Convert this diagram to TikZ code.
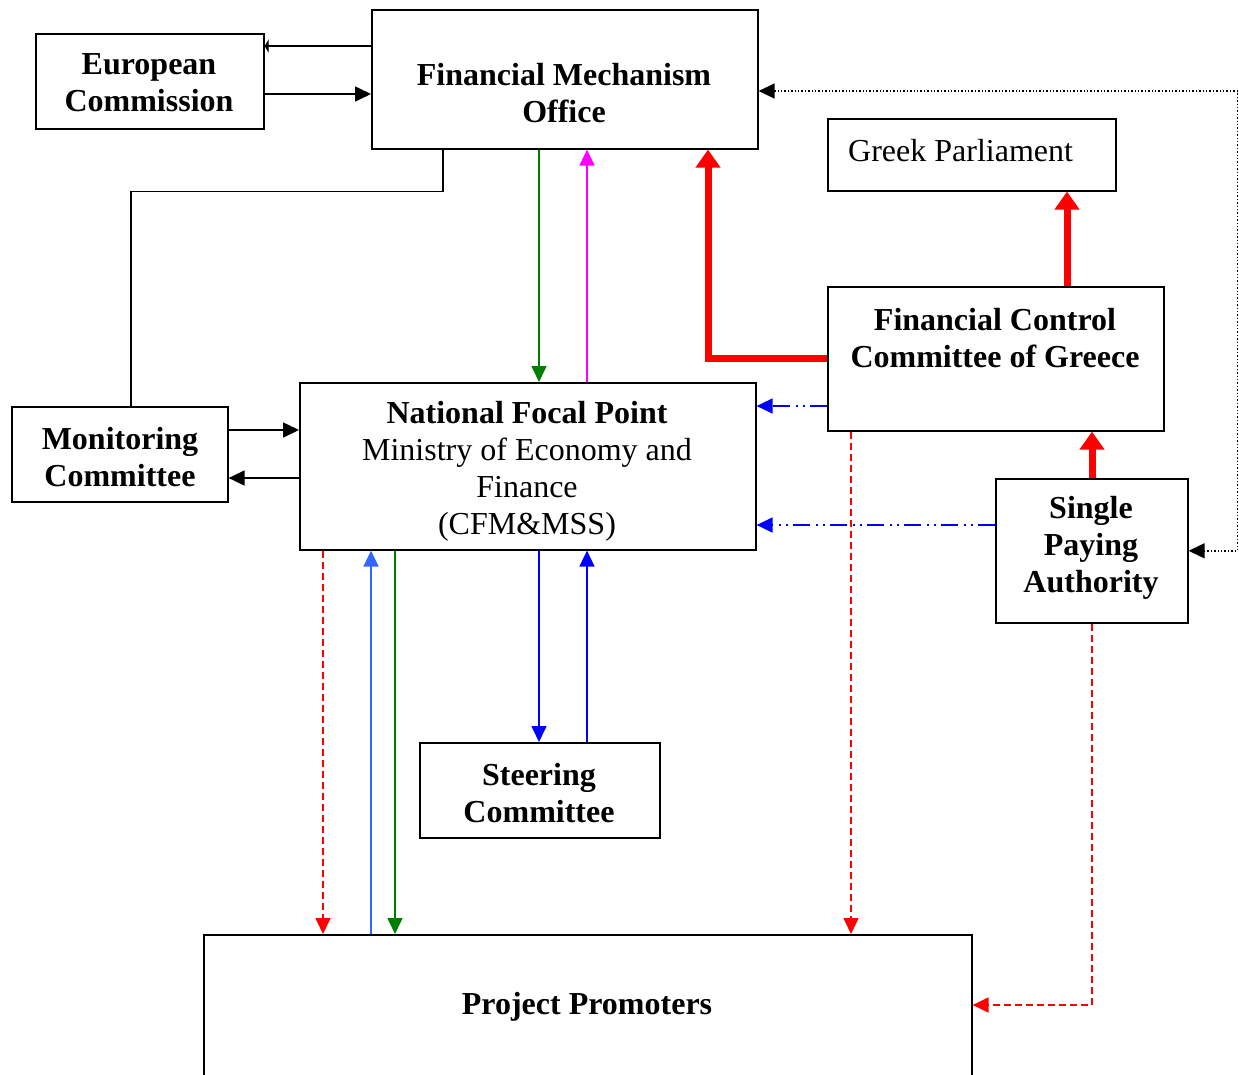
\documentclass[tikz,border=0pt]{standalone}
\usepackage{fontspec}
\setmainfont{Liberation Serif}
\usetikzlibrary{arrows.meta,calc}
\definecolor{pgreen}{RGB}{0,128,0}
\definecolor{pmag}{RGB}{255,0,255}
\definecolor{pred}{RGB}{255,0,0}
\definecolor{pblue}{RGB}{0,0,255}
\definecolor{plblue}{RGB}{51,102,255}
\tikzset{
  box/.style={draw=black, line width=1.6pt, rectangle, inner sep=0pt, anchor=north west},
  lbl/.style={align=center, font=\fontsize{32}{37}\selectfont\bfseries, inner sep=0pt},
  lblr/.style={align=center, font=\fontsize{32}{37}\selectfont, inner sep=0pt},
  conn/.style={line width=1.6pt, -{Triangle[length=16pt,width=15pt]}},
  bigred/.style={draw=pred, line width=7pt, -{Triangle[length=18pt,width=24pt]}},
  reddash/.style={conn, draw=pred, dash pattern=on 7pt off 4pt, -{Triangle[length=16pt,width=15pt,fill=pred]}},
  dashdot/.style={conn, draw=pblue, dash pattern=on 17pt off 5pt on 2pt off 5pt on 2pt off 6pt, -{Triangle[length=16pt,width=15pt,fill=pblue]}},
}
\begin{document}
\begin{tikzpicture}[x=1pt,y=-1pt]
\useasboundingbox (0,0) rectangle (1239,1074);
% boxes
\node[box, minimum width=228pt, minimum height=95pt] (EC) at (35,33) {};
\node[box, minimum width=386pt, minimum height=139pt] (FMO) at (371,9) {};
\node[box, minimum width=288pt, minimum height=72pt] (GP) at (827,118) {};
\node[box, minimum width=336pt, minimum height=144pt] (FCC) at (827,286) {};
\node[box, minimum width=456pt, minimum height=167pt] (NFP) at (299,382) {};
\node[box, minimum width=216pt, minimum height=95pt] (MC) at (11,406) {};
\node[box, minimum width=192pt, minimum height=144pt] (SPA) at (995,478) {};
\node[box, minimum width=240pt, minimum height=95pt] (SC) at (419,742) {};
\node[box, minimum width=768pt, minimum height=170pt] (PP) at (203,934) {};
% texts
\node[lbl] (ECt) at (149,83) {European\\Commission};
\node[lbl] (FMOt) at (564,93) {Financial Mechanism\\Office};
\node[lblr, anchor=west] (GPt) at (848,151) {Greek Parliament};
\node[lbl] (FCCt) at (995,338) {Financial Control\\Committee of Greece};
\node[lblr] (NFPt) at (527,471) {\textbf{National Focal Point}\\Ministry of Economy and\\Finance\\(CFM\&MSS)};
\node[lbl] (MCt) at (120,457) {Monitoring\\Committee};
\node[lbl] (SPAt) at (1091,548) {Single\\Paying\\Authority};
\node[lbl] (SCt) at (539,793) {Steering\\Committee};
\node[lbl] (PPt) at (587,1007) {Project Promoters};
% EC <-> FMO
\draw[line width=1.6pt, -{Triangle[length=4pt,width=13pt]}] ($(FMO.north west)+(0,37)$) coordinate (e1) -- (e1 -| EC.east);
\draw[conn] ($(EC.north east)+(0,61)$) coordinate (e2) -- (e2 -| FMO.west);
% FMO - MC
\draw[line width=1.6pt] ($(FMO.south west)+(72,0)$) -- ++(0,42) -| ($(MC.north west)+(120,0)$);
% FMO <-> NFP
\draw[conn, draw=pgreen, -{Triangle[length=16pt,width=15pt,fill=pgreen]}] ($(FMO.south west)+(168,0)$) coordinate (f1) -- (f1 |- NFP.north);
\draw[conn, draw=pmag, -{Triangle[length=16pt,width=15pt,fill=pmag]}] ($(NFP.north west)+(288,0)$) coordinate (f2) -- (f2 |- FMO.south);
% FCC -> FMO, GP ; SPA -> FCC
\draw[bigred] (FCC.west) -| ($(FMO.south west)+(337,0)$);
\draw[bigred] ($(FCC.north west)+(240,0)$) coordinate (g1) -- (g1 |- GP.south);
\draw[bigred] ($(SPA.north west)+(97,0)$) coordinate (g2) -- (g2 |- FCC.south);
% dash-dot to NFP
\draw[dashdot] ($(FCC.north west)+(0,120)$) coordinate (d1) -- (d1 -| NFP.east);
\draw[dashdot] ($(SPA.north west)+(0,47)$) coordinate (d2) -- (d2 -| NFP.east);
% dotted FMO <-> SPA
\draw[line width=1.4pt, dotted, {Triangle[length=16pt,width=15pt]}-{Triangle[length=16pt,width=15pt]}] ($(FMO.north east)+(0,82)$) -| ($(SPA.east)+(49,0)$) -- (SPA.east);
% MC <-> NFP
\draw[conn] ($(MC.north east)+(0,24)$) coordinate (m1) -- (m1 -| NFP.west);
\draw[conn] ($(NFP.north west)+(0,96)$) coordinate (m2) -- (m2 -| MC.east);
% NFP <-> PP
\draw[reddash] ($(NFP.south west)+(24,0)$) coordinate (p1) -- (p1 |- PP.north);
\draw[conn, draw=plblue, -{Triangle[length=16pt,width=15pt,fill=plblue]}] ($(PP.north west)+(168,0)$) coordinate (p2) -- (p2 |- NFP.south);
\draw[conn, draw=pgreen, -{Triangle[length=16pt,width=15pt,fill=pgreen]}] ($(NFP.south west)+(96,0)$) coordinate (p3) -- (p3 |- PP.north);
% NFP <-> SC
\draw[conn, draw=pblue, -{Triangle[length=16pt,width=15pt,fill=pblue]}] ($(NFP.south west)+(240,0)$) coordinate (s1) -- (s1 |- SC.north);
\draw[conn, draw=pblue, -{Triangle[length=16pt,width=15pt,fill=pblue]}] ($(SC.north west)+(168,0)$) coordinate (s2) -- (s2 |- NFP.south);
% FCC -> PP, SPA -> PP
\draw[reddash] ($(FCC.south west)+(24,0)$) coordinate (q1) -- (q1 |- PP.north);
\draw[reddash] ($(SPA.south west)+(97,0)$) |- ($(PP.north east)+(0,71)$);
\end{tikzpicture}
\end{document}
